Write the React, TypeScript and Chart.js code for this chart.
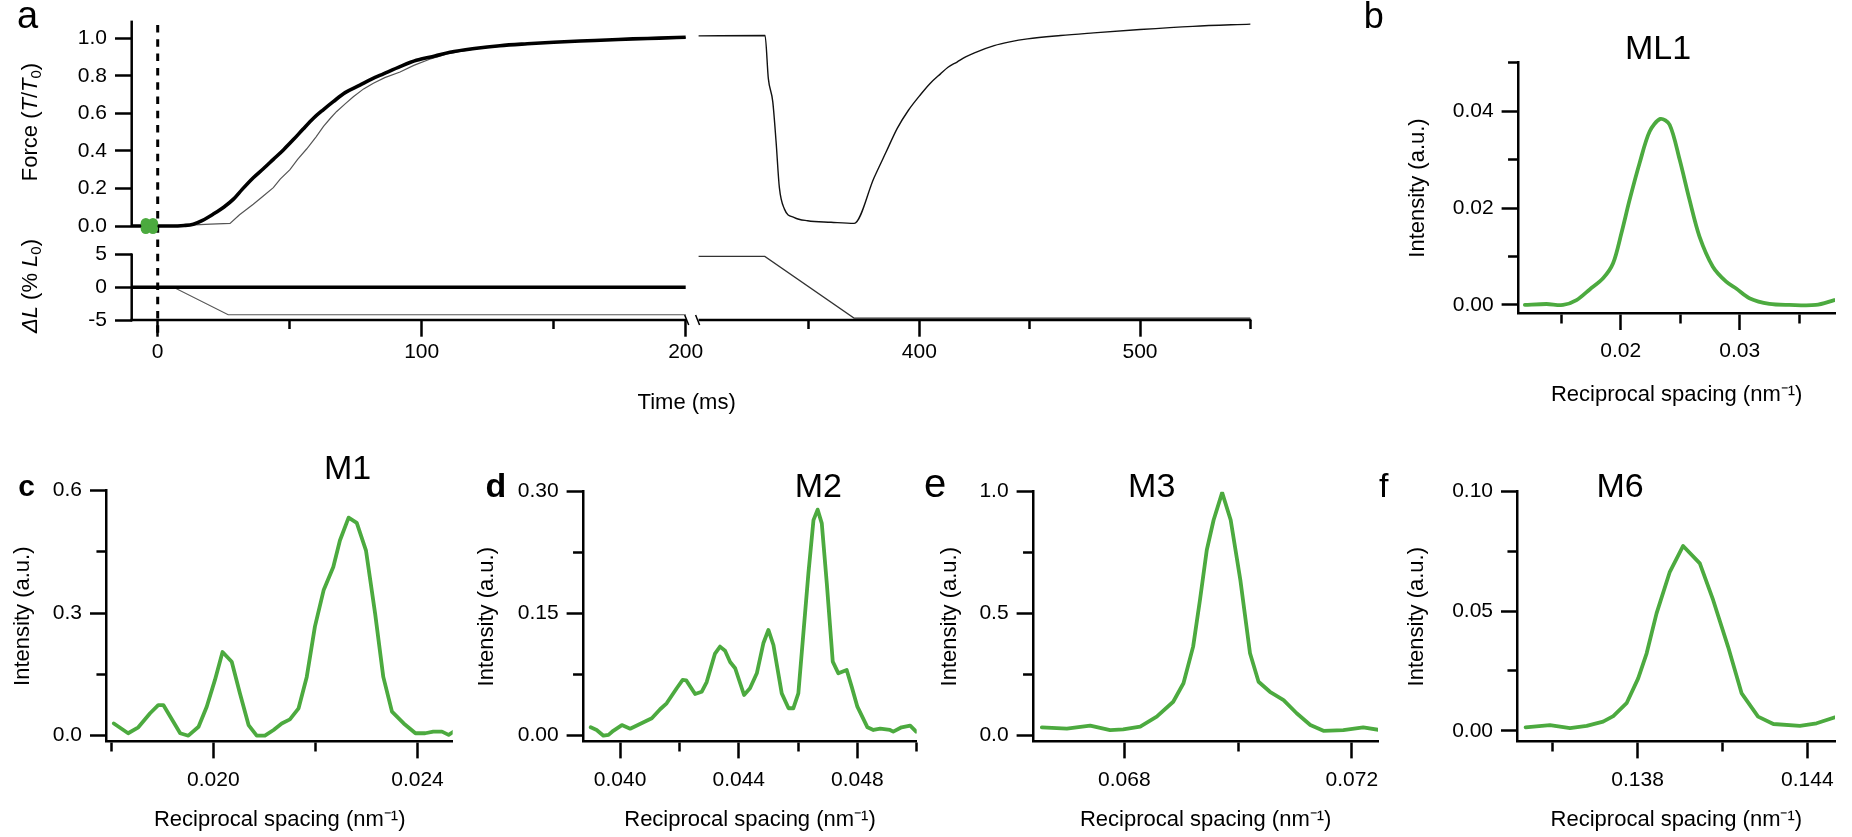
import React, { useEffect, useRef } from 'react';
import { Chart, registerables } from 'chart.js';

Chart.register(...registerables);

const FONT = '"Liberation Sans", Arial, Helvetica, sans-serif';
Chart.defaults.font.family = FONT;
Chart.defaults.color = '#000';

/* ---------------- Panel a : force (T/T0) and length change (% L0) ---------------- */
const forceControlTime = [-9.8, 0, 5, 10, 13.5, 17, 21, 25, 28.7, 32, 36.2, 40, 43.8, 47.6, 51.4, 55, 59, 62.8, 66.5, 71, 76.6, 81, 85.5, 92, 98, 105, 110.7, 120, 129.6, 140, 150, 160, 170, 180, 190, 200];
const forceControl = [0, 0, 0, 0.003, 0.01, 0.03, 0.063, 0.1, 0.143, 0.195, 0.257, 0.305, 0.355, 0.405, 0.46, 0.515, 0.574, 0.62, 0.662, 0.71, 0.75, 0.782, 0.81, 0.85, 0.882, 0.905, 0.925, 0.945, 0.96, 0.97, 0.978, 0.985, 0.99, 0.996, 1.0, 1.005];
const forceShortenTime = [0, 12, 20, 27.4, 31, 36.2, 40, 43.8, 46.4, 50.1, 53, 56.4, 60, 62.8, 65.5, 67.8, 71, 74.1, 78, 81.7, 86, 91.8, 97, 103, 110, 120, 130, 145, 160, 180, 200];
const forceShorten = [0, 0.005, 0.01, 0.014, 0.06, 0.116, 0.16, 0.204, 0.25, 0.3, 0.355, 0.41, 0.475, 0.53, 0.575, 0.61, 0.65, 0.688, 0.73, 0.76, 0.79, 0.82, 0.855, 0.888, 0.918, 0.943, 0.958, 0.974, 0.984, 0.995, 1.003];
const forceRestretchTime = [300, 330.1, 331.6, 333.6, 335.1, 336.6, 338.9, 343.4, 349.4, 360, 370.5, 379.5, 385, 390, 395, 400.6, 405, 409.6, 413, 417.1, 421, 425, 433.9, 441, 449, 464, 479, 500, 524, 550];
const forceRestretch = [1.012, 1.014, 0.785, 0.662, 0.45, 0.204, 0.09, 0.045, 0.028, 0.02, 0.014, 0.257, 0.395, 0.52, 0.615, 0.7, 0.76, 0.81, 0.845, 0.873, 0.9, 0.922, 0.96, 0.98, 0.996, 1.014, 1.028, 1.046, 1.063, 1.075];
const lengthControlTime = [-9.8, 200];
const lengthControl = [0, 0];
const lengthShortenTime = [0, 6, 26.7, 200];
const lengthShorten = [0, 0, -4.2, -4.2];
const lengthRestretchTime = [300, 330, 370.4, 550];
const lengthRestretch = [4.7, 4.7, -4.7, -4.7];
const stimulusTime = [0, 0];
const stimulusForce = [1.07, -0.57];
const exposureTime = [-4.5, -4.5, -1.8, -1.8];
const exposureForce = [0.015, -0.015, 0.015, -0.015];

const forceTicks = [0, 0.2, 0.4, 0.6, 0.8, 1.0];
const forceTickLabels = ['0.0', '0.2', '0.4', '0.6', '0.8', '1.0'];
const lengthTicks = [-5, 0, 5];
const lengthTickLabels = ['-5', '0', '5'];
const timeTicksLeft = [0, 50, 100, 150, 200];
const timeTickLabelsLeft = ['0', '', '100', '', '200'];
const timeTicksRight = [350, 400, 450, 500, 550];
const timeTickLabelsRight = ['', '400', '', '500', ''];

/* ---------------- Panels b-f : meridional intensity profiles ---------------- */
const ml1Spacing = [0.01195, 0.01377, 0.01516, 0.01629, 0.0174, 0.01852, 0.01936, 0.02006, 0.02075, 0.02159, 0.02243, 0.02333, 0.02411, 0.02495, 0.02578, 0.02662, 0.02774, 0.02886, 0.0297, 0.03081, 0.03249, 0.03417, 0.0364, 0.03794];
const ml1Intensity = [0, 0.0002, 0, 0.001, 0.0032, 0.0055, 0.0086, 0.0148, 0.0217, 0.0293, 0.0358, 0.0384, 0.0372, 0.03, 0.0217, 0.0141, 0.0079, 0.0048, 0.0034, 0.0014, 0.0002, 0, 0, 0.001];
const ml1XTicks = [0.015, 0.02, 0.025, 0.03, 0.035];
const ml1XLabels = ['', '0.02', '', '0.03', ''];
const ml1YTicks = [0, 0.01, 0.02, 0.03, 0.04, 0.05];
const ml1YLabels = ['0.00', '', '0.02', '', '0.04', ''];

const m1Spacing = [0.01805, 0.01833, 0.01853, 0.01876, 0.01892, 0.01902, 0.01935, 0.01951, 0.01971, 0.01987, 0.02003, 0.02018, 0.02036, 0.02052, 0.02069, 0.02085, 0.02101, 0.02118, 0.02134, 0.0215, 0.02167, 0.02183, 0.02199, 0.02216, 0.02235, 0.02248, 0.02265, 0.02281, 0.02299, 0.02317, 0.02333, 0.0235, 0.02373, 0.02396, 0.02415, 0.02431, 0.02448, 0.02461, 0.02471];
const m1Intensity = [0.03, 0.006, 0.0205, 0.055, 0.075, 0.075, 0.006, 0, 0.022, 0.071, 0.136, 0.205, 0.181, 0.104, 0.026, 0, 0, 0.014, 0.03, 0.04, 0.067, 0.144, 0.267, 0.356, 0.413, 0.478, 0.534, 0.521, 0.454, 0.299, 0.144, 0.059, 0.03, 0.006, 0.006, 0.01, 0.01, 0.002, 0.01];
const m1XTicks = [0.018, 0.02, 0.022, 0.024];
const m1XLabels = ['', '0.020', '', '0.024'];
const m1YTicks = [0, 0.15, 0.3, 0.45, 0.6];
const m1YLabels = ['0.0', '', '0.3', '', '0.6'];

const m2Spacing = [0.03901, 0.03921, 0.03944, 0.03961, 0.03977, 0.04006, 0.04034, 0.04067, 0.04107, 0.04135, 0.04157, 0.04191, 0.04211, 0.04223, 0.04253, 0.04275, 0.04292, 0.0432, 0.04337, 0.04354, 0.04371, 0.04388, 0.04418, 0.04438, 0.04461, 0.04483, 0.045, 0.04517, 0.04545, 0.04568, 0.04584, 0.04601, 0.04618, 0.04635, 0.04652, 0.04666, 0.0468, 0.04697, 0.04717, 0.04736, 0.04764, 0.04781, 0.048, 0.04834, 0.04854, 0.04877, 0.0491, 0.04921, 0.04949, 0.04978, 0.04998];
const m2Intensity = [0.0103, 0.007, 0, 0.001, 0.006, 0.013, 0.0086, 0.0144, 0.0214, 0.0325, 0.0398, 0.0583, 0.0685, 0.068, 0.0513, 0.054, 0.066, 0.101, 0.1095, 0.1045, 0.0906, 0.0829, 0.05, 0.0583, 0.0767, 0.1136, 0.13, 0.1115, 0.052, 0.0337, 0.0337, 0.052, 0.126, 0.2, 0.265, 0.278, 0.261, 0.187, 0.091, 0.0767, 0.0808, 0.06, 0.0357, 0.0103, 0.007, 0.0086, 0.007, 0.005, 0.0103, 0.0123, 0.005];
const m2XTicks = [0.04, 0.042, 0.044, 0.046, 0.048, 0.05];
const m2XLabels = ['0.040', '', '0.044', '', '0.048', ''];
const m2YTicks = [0, 0.075, 0.15, 0.225, 0.3];
const m2YLabels = ['0.00', '', '0.15', '', '0.30'];

const m3Spacing = [0.06655, 0.06699, 0.0674, 0.06775, 0.06798, 0.06828, 0.06857, 0.06886, 0.06904, 0.06921, 0.06933, 0.06945, 0.06957, 0.06972, 0.06987, 0.07004, 0.07021, 0.07036, 0.07056, 0.0708, 0.07103, 0.07127, 0.0715, 0.07185, 0.0722, 0.0725];
const m3Intensity = [0.034, 0.029, 0.041, 0.023, 0.026, 0.037, 0.078, 0.139, 0.215, 0.365, 0.556, 0.761, 0.884, 0.996, 0.884, 0.638, 0.338, 0.221, 0.18, 0.146, 0.092, 0.044, 0.02, 0.023, 0.034, 0.023];
const m3XTicks = [0.068, 0.07, 0.072];
const m3XLabels = ['0.068', '', '0.072'];
const m3YTicks = [0, 0.25, 0.5, 0.75, 1.0];
const m3YLabels = ['0.0', '', '0.5', '', '1.0'];

const m6Spacing = [0.13404, 0.1349, 0.13561, 0.1362, 0.13678, 0.13714, 0.13761, 0.13802, 0.13832, 0.13867, 0.13914, 0.13961, 0.1402, 0.14067, 0.1412, 0.14168, 0.14226, 0.1428, 0.14374, 0.14433, 0.14498];
const m6Intensity = [0.0014, 0.0023, 0.0011, 0.002, 0.0038, 0.0061, 0.0115, 0.0219, 0.0324, 0.0491, 0.0665, 0.0773, 0.07, 0.0547, 0.0351, 0.0156, 0.0059, 0.0028, 0.002, 0.0031, 0.0056];
const m6XTicks = [0.135, 0.138, 0.141, 0.144];
const m6XLabels = ['', '0.138', '', '0.144'];
const m6YTicks = [0, 0.025, 0.05, 0.075, 0.1];
const m6YLabels = ['0.00', '', '0.05', '', '0.10'];

/* ---------------- styling ---------------- */
const GREEN = '#4caa3f';
const TICK_LEN = 16.7;
const MINOR_LEN = 9;
const AXIS_W = 2.5;
const TICK_FONT = { size: 21 };
const TITLE_SIZE = 22;
const TITLE_FONT = { size: TITLE_SIZE };
const TITLE_LH = TITLE_SIZE * 1.2;

const pts = (xs: number[], ys: number[]) => xs.map((x, i) => ({ x, y: ys[i] }));
const setTicks = (values: number[]) => (scale: any) => {
  scale.ticks = values.map((v) => ({ value: v }));
};

function tickGrid(labels: string[], side: 'x' | 'y', borderShown: boolean) {
  const inner = TICK_LEN - (borderShown ? AXIS_W / 2 : 0);
  return {
    display: true,
    drawOnChartArea: false,
    drawTicks: true,
    tickLength: TICK_LEN,
    tickWidth: AXIS_W,
    tickColor: '#000',
    tickBorderDash: (c: any) =>
      labels[c.index] !== '' ? [] : side === 'x' ? [MINOR_LEN, 400] : [0, inner - MINOR_LEN, MINOR_LEN, 400],
  };
}

type Rect = [number, number, number, number];

/* ---------------- Panel a config ---------------- */
const A_CANVAS: Rect = [0, 0, 1300, 420];
const A_AREA = { left: 131.7, top: 18.3, right: 1251, bottom: 320 };

const panelAAxisLines = {
  id: 'panelAAxisLines',
  afterDatasetsDraw(chart: any) {
    const { ctx, chartArea, scales } = chart;
    const { x, xR, y, yL } = scales;
    const seg = (x1: number, y1: number, x2: number, y2: number, w = AXIS_W) => {
      ctx.beginPath();
      ctx.lineWidth = w;
      ctx.moveTo(x1, y1);
      ctx.lineTo(x2, y2);
      ctx.stroke();
    };
    ctx.save();
    ctx.strokeStyle = '#000';
    const left = chartArea.left;
    const base = yL.getPixelForValue(lengthTicks[0]);
    seg(left, chartArea.top, left, y.getPixelForValue(0) + 1);
    seg(left, yL.getPixelForValue(lengthTicks[2]) - 1, left, base + AXIS_W / 2);
    const xEnd = x.getPixelForValue(timeTicksLeft[timeTicksLeft.length - 1]);
    seg(left - AXIS_W / 2, base, xEnd + 1, base);
    const xStart = xR.getPixelForValue(300);
    seg(xStart, base, xR.getPixelForValue(timeTicksRight[timeTicksRight.length - 1]) + 1, base);
    seg(xEnd - 1, base - 5, xEnd + 3, base + 5, 1.5);
    seg(xStart - 3, base - 5, xStart + 1, base + 5, 1.5);
    ctx.restore();
  },
};

function panelAConfig(): any {
  const [cl, ct, cw, ch] = A_CANVAS;
  const leftW = 560;
  const rightW = A_AREA.right - A_AREA.left - leftW;
  const pxPerMsL = 2.64;
  const pxPerMsR = 2.207;
  const xLMin = -9.85;
  const xRMin = 300 - (698.6 - (A_AREA.left + leftW)) / pxPerMsR;
  const forcePx = 189.3;
  const force0 = 225.3;
  const split = 240;
  const lenPx = 6.6;
  const common = {
    type: 'linear',
    bounds: 'data',
    border: { display: false },
  };
  return {
    type: 'line',
    data: {
      datasets: [
        { data: pts(exposureTime, exposureForce), xAxisID: 'x', yAxisID: 'y', showLine: false, pointRadius: 5.2, pointBackgroundColor: GREEN, pointBorderWidth: 0 },
        { data: pts(stimulusTime, stimulusForce), xAxisID: 'x', yAxisID: 'y', borderColor: '#000', borderWidth: 3, borderDash: [7.5, 6.8], clip: false },
        { data: pts(forceControlTime, forceControl), xAxisID: 'x', yAxisID: 'y', borderColor: '#000', borderWidth: 3.6, cubicInterpolationMode: 'monotone' },
        { data: pts(lengthControlTime, lengthControl), xAxisID: 'x', yAxisID: 'yL', borderColor: '#000', borderWidth: 3.6 },
        { data: pts(forceShortenTime, forceShorten), xAxisID: 'x', yAxisID: 'y', borderColor: '#555', borderWidth: 1.2 },
        { data: pts(lengthShortenTime, lengthShorten), xAxisID: 'x', yAxisID: 'yL', borderColor: '#555', borderWidth: 1.2 },
        { data: pts(forceRestretchTime, forceRestretch), xAxisID: 'xR', yAxisID: 'y', borderColor: '#111', borderWidth: 1.4, cubicInterpolationMode: 'monotone' },
        { data: pts(lengthRestretchTime, lengthRestretch), xAxisID: 'xR', yAxisID: 'yL', borderColor: '#333', borderWidth: 1.2 },
      ],
    },
    options: {
      animation: false,
      responsive: false,
      devicePixelRatio: 1,
      events: [],
      elements: { point: { radius: 0 }, line: { tension: 0 } },
      layout: { padding: { left: 0, top: A_AREA.top - ct, right: cl + cw - A_AREA.right, bottom: 0 } },
      plugins: { legend: { display: false }, tooltip: { enabled: false } },
      scales: {
        x: {
          ...common,
          position: 'bottom',
          stack: 'time',
          stackWeight: leftW,
          weight: 1,
          min: xLMin,
          max: xLMin + leftW / pxPerMsL,
          afterFit: (s: any) => { s.height = ct + ch - A_AREA.bottom; },
          afterBuildTicks: setTicks(timeTicksLeft),
          ticks: { autoSkip: false, maxRotation: 0, minRotation: 0, padding: 3, font: TICK_FONT, color: '#000', callback: (_v: any, i: number) => timeTickLabelsLeft[i] },
          grid: tickGrid(timeTickLabelsLeft, 'x', false),
        },
        xR: {
          ...common,
          position: 'bottom',
          stack: 'time',
          stackWeight: rightW,
          weight: 2,
          min: xRMin,
          max: xRMin + rightW / pxPerMsR,
          afterFit: (s: any) => { s.height = ct + ch - A_AREA.bottom; },
          afterBuildTicks: setTicks(timeTicksRight),
          ticks: { autoSkip: false, maxRotation: 0, minRotation: 0, padding: 3, font: TICK_FONT, color: '#000', callback: (_v: any, i: number) => timeTickLabelsRight[i] },
          grid: tickGrid(timeTickLabelsRight, 'x', false),
        },
        y: {
          ...common,
          position: 'left',
          stack: 'val',
          stackWeight: split - A_AREA.top,
          weight: 2,
          min: -(split - force0) / forcePx,
          max: (force0 - A_AREA.top) / forcePx,
          afterFit: (s: any) => { s.width = A_AREA.left - cl; },
          afterBuildTicks: setTicks(forceTicks),
          ticks: { autoSkip: false, padding: 8, font: TICK_FONT, color: '#000', callback: (_v: any, i: number) => forceTickLabels[i] },
          grid: tickGrid(forceTickLabels, 'y', false),
        },
        yL: {
          ...common,
          position: 'left',
          stack: 'val',
          stackWeight: A_AREA.bottom - split,
          weight: 1,
          min: -5,
          max: -5 + (A_AREA.bottom - split) / lenPx,
          afterFit: (s: any) => { s.width = A_AREA.left - cl; },
          afterBuildTicks: setTicks(lengthTicks),
          ticks: { autoSkip: false, padding: 8, font: TICK_FONT, color: '#000', callback: (_v: any, i: number) => lengthTickLabels[i] },
          grid: tickGrid(lengthTickLabels, 'y', false),
        },
      },
    },
    plugins: [panelAAxisLines],
  };
}

/* ---------------- spectra configs ---------------- */
type SpecData = {
  xs: number[]; ys: number[];
  xMin: number; xMax: number; yMin: number; yMax: number;
  xTicks: number[]; xLabels: string[]; yTicks: number[]; yLabels: string[];
  tension: number;
};
type SpecLayout = { canvas: Rect; area: Rect; yTitleX: number; xTitleY: number };

function spectrumConfig(d: SpecData, L: SpecLayout): any {
  const [cl, ct, cw, ch] = L.canvas;
  const [al, at, ar, ab] = L.area;
  return {
    type: 'line',
    data: {
      datasets: [
        { data: pts(d.xs, d.ys), borderColor: GREEN, borderWidth: 3.8, pointRadius: 0, tension: d.tension, borderJoinStyle: 'round', borderCapStyle: 'round' },
      ],
    },
    options: {
      animation: false,
      responsive: false,
      devicePixelRatio: 1,
      events: [],
      layout: { padding: { left: 0, top: at - ct, right: cl + cw - ar, bottom: 0 } },
      plugins: { legend: { display: false }, tooltip: { enabled: false } },
      scales: {
        x: {
          type: 'linear', position: 'bottom', bounds: 'data', min: d.xMin, max: d.xMax,
          afterFit: (s: any) => { s.height = ct + ch - ab; },
          afterBuildTicks: setTicks(d.xTicks),
          ticks: { autoSkip: false, maxRotation: 0, minRotation: 0, padding: 9, font: TICK_FONT, color: '#000', callback: (_v: any, i: number) => d.xLabels[i] },
          grid: tickGrid(d.xLabels, 'x', true),
          border: { display: true, width: AXIS_W, color: '#000' },
          title: { display: true, text: 'Reciprocal spacing (nm⁻¹)', font: TITLE_FONT, color: '#000', padding: { top: 0, bottom: ct + ch - L.xTitleY - TITLE_LH / 2 } },
        },
        y: {
          type: 'linear', position: 'left', bounds: 'data', min: d.yMin, max: d.yMax,
          afterFit: (s: any) => { s.width = al - cl; },
          afterBuildTicks: setTicks(d.yTicks),
          ticks: { autoSkip: false, padding: 8, font: TICK_FONT, color: '#000', callback: (_v: any, i: number) => d.yLabels[i] },
          grid: tickGrid(d.yLabels, 'y', true),
          border: { display: true, width: AXIS_W, color: '#000' },
          title: { display: true, text: 'Intensity (a.u.)', font: TITLE_FONT, color: '#000', padding: { top: L.yTitleX - cl - TITLE_LH / 2, bottom: 0 } },
        },
      },
    },
  };
}

const spectra: { key: string; data: SpecData; layout: SpecLayout }[] = [
  {
    key: 'b',
    data: { xs: ml1Spacing, ys: ml1Intensity, xMin: 0.0114, xMax: 0.038, yMin: -0.00172, yMax: 0.05, xTicks: ml1XTicks, xLabels: ml1XLabels, yTicks: ml1YTicks, yLabels: ml1YLabels, tension: 0.3 },
    layout: { canvas: [1380, 0, 472, 420], area: [1518.3, 62.7, 1835, 313.3], yTitleX: 1418.3, xTitleY: 395 },
  },
  {
    key: 'c',
    data: { xs: m1Spacing, ys: m1Intensity, xMin: 0.01791, xMax: 0.02469, yMin: -0.0147, yMax: 0.6, xTicks: m1XTicks, xLabels: m1XLabels, yTicks: m1YTicks, yLabels: m1YLabels, tension: 0 },
    layout: { canvas: [0, 440, 470, 397], area: [106.7, 490.7, 452.7, 741.7], yTitleX: 23.3, xTitleY: 820 },
  },
  {
    key: 'd',
    data: { xs: m2Spacing, ys: m2Intensity, xMin: 0.03876, xMax: 0.05, yMin: -0.0074, yMax: 0.3, xTicks: m2XTicks, xLabels: m2XLabels, yTicks: m2YTicks, yLabels: m2YLabels, tension: 0 },
    layout: { canvas: [470, 440, 470, 397], area: [583.3, 491.7, 916.7, 741.7], yTitleX: 486.7, xTitleY: 820 },
  },
  {
    key: 'e',
    data: { xs: m3Spacing, ys: m3Intensity, xMin: 0.0664, xMax: 0.07246, yMin: -0.0246, yMax: 1.0, xTicks: m3XTicks, xLabels: m3XLabels, yTicks: m3YTicks, yLabels: m3YLabels, tension: 0 },
    layout: { canvas: [930, 440, 470, 397], area: [1033.3, 491.7, 1378, 741.7], yTitleX: 950, xTitleY: 820 },
  },
  {
    key: 'f',
    data: { xs: m6Spacing, ys: m6Intensity, xMin: 0.13376, xMax: 0.14498, yMin: -0.0046, yMax: 0.1, xTicks: m6XTicks, xLabels: m6XLabels, yTicks: m6YTicks, yLabels: m6YLabels, tension: 0 },
    layout: { canvas: [1400, 440, 452, 397], area: [1517.7, 491.7, 1835, 741.7], yTitleX: 1416.7, xTitleY: 820 },
  },
];

/* ---------------- text labels ---------------- */
const textLabels = [
  { text: 'a', cx: 27.5, base: 28.3, size: 38, weight: 400 },
  { text: 'b', cx: 1373.8, base: 28.3, size: 36, weight: 400 },
  { text: 'c', cx: 26.7, base: 496.7, size: 30, weight: 700 },
  { text: 'd', cx: 495.8, base: 496.7, size: 34, weight: 700 },
  { text: 'e', cx: 935, base: 496.7, size: 40, weight: 400 },
  { text: 'f', cx: 1383.8, base: 496.7, size: 34, weight: 400 },
  { text: 'ML1', cx: 1658, base: 58.3, size: 34, weight: 400 },
  { text: 'M1', cx: 347.5, base: 478.3, size: 34, weight: 400 },
  { text: 'M2', cx: 818.3, base: 497, size: 34, weight: 400 },
  { text: 'M3', cx: 1151.7, base: 496.7, size: 34, weight: 400 },
  { text: 'M6', cx: 1620, base: 496.7, size: 34, weight: 400 },
  { text: 'Time (ms)', cx: 686.7, base: 410, size: 22, weight: 400 },
];

function ChartCanvas({ rect, make }: { rect: Rect; make: () => any }) {
  const ref = useRef<HTMLCanvasElement>(null);
  useEffect(() => {
    const chart = new Chart(ref.current as HTMLCanvasElement, make());
    return () => chart.destroy();
  }, []);
  const [l, t, w, h] = rect;
  return (
    <canvas
      ref={ref}
      width={w}
      height={h}
      style={{ position: 'absolute', left: l, top: t, width: w, height: h }}
    />
  );
}

const subStyle: React.CSSProperties = { fontSize: '0.68em', position: 'relative', top: '0.3em' };

function RotatedTitle({ cx, cy, children }: { cx: number; cy: number; children: React.ReactNode }) {
  return (
    <div
      style={{
        position: 'absolute',
        left: cx,
        top: cy,
        transform: 'translate(-50%, -50%) rotate(-90deg)',
        fontSize: 22,
        lineHeight: 1,
        whiteSpace: 'nowrap',
        fontFamily: FONT,
      }}
    >
      {children}
    </div>
  );
}

export default function App() {
  return (
    <div
      style={{
        position: 'absolute',
        left: 0,
        top: 0,
        width: 1852,
        height: 837,
        background: '#fff',
        color: '#000',
        fontFamily: FONT,
        overflow: 'hidden',
      }}
    >
      <ChartCanvas rect={A_CANVAS} make={panelAConfig} />
      {spectra.map((s) => (
        <ChartCanvas key={s.key} rect={s.layout.canvas} make={() => spectrumConfig(s.data, s.layout)} />
      ))}
      <RotatedTitle cx={30} cy={121.7}>
        Force (<i>T</i>/<i>T</i><span style={subStyle}>0</span>)
      </RotatedTitle>
      <RotatedTitle cx={30} cy={285.8}>
        <i>ΔL</i> (% <i>L</i><span style={subStyle}>0</span>)
      </RotatedTitle>
      {textLabels.map((t) => (
        <div
          key={t.text}
          style={{
            position: 'absolute',
            left: t.cx,
            top: t.base - 0.8465 * t.size,
            fontSize: t.size,
            fontWeight: t.weight,
            lineHeight: 1,
            whiteSpace: 'nowrap',
            transform: 'translateX(-50%)',
            fontFamily: FONT,
          }}
        >
          {t.text}
        </div>
      ))}
    </div>
  );
}
